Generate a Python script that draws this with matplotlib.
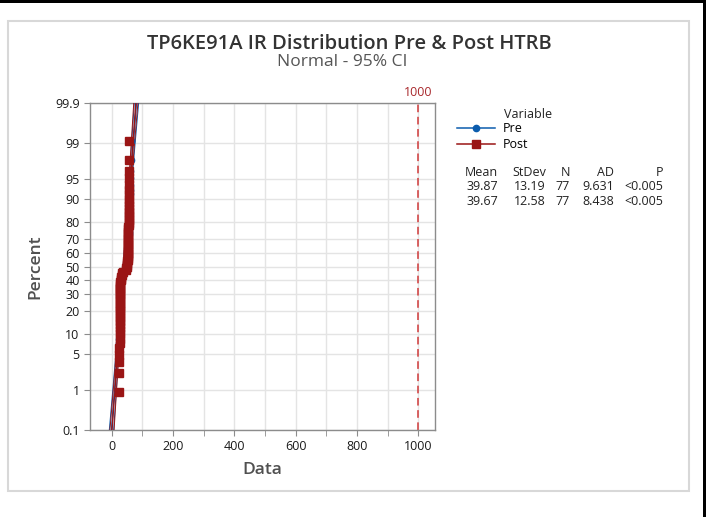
import numpy as np
import matplotlib.pyplot as plt
from matplotlib.lines import Line2D
from matplotlib.patches import Rectangle
from statistics import NormalDist

plt.rcParams['font.family'] = ['Open Sans', 'DejaVu Sans']

# data (sorted order does not matter)
pre = [22, 24, 25, 25, 25, 25, 25, 26, 26, 26, 26, 26, 26, 26, 26, 26, 26, 26,
       27, 27, 27, 27, 27, 27, 27, 27, 28, 28,
       28, 29, 30, 30, 31, 33, 36, 40, 44, 47, 50, 50, 51, 51,
       52, 52, 52, 52, 53, 53, 53, 53, 53, 54, 54, 54, 54, 54, 55, 55, 55,
       55, 55, 56, 56, 56, 56, 56, 57, 57, 57, 57, 58, 58, 58, 59, 60, 62, 64]
post = [25, 26, 26, 25, 25, 25, 25, 26, 26, 26, 26, 26, 26, 26, 26, 26, 26,
        26, 26, 27, 27, 27, 27, 27, 27, 27, 27, 27,
        28, 28, 29, 30, 30, 32, 34, 38, 45, 48, 50, 50, 51, 51,
        52, 52, 52, 52, 53, 53, 53, 53, 53, 53, 54, 54, 54, 54, 54, 54, 54,
        55, 55, 55, 55, 55, 55, 55, 56, 56, 56, 56, 56, 57, 57, 57, 56, 55, 54]

variables = ['Pre', 'Post']
means = [39.87, 39.67]
stdevs = [13.19, 12.58]
ns = [77, 77]
ads = [9.631, 8.438]
pvals = ['<0.005', '<0.005']
ref_value = 1000

colors = ['#0b5cad', '#9a1515']
markers = ['o', 's']
msizes = [4.5, 6]

pct_ticks = [0.1, 1, 5, 10, 20, 30, 40, 50, 60, 70, 80, 90, 95, 99, 99.9]

nd = NormalDist()
_ppf = np.vectorize(nd.inv_cdf, otypes=[float])
_cdf = np.vectorize(nd.cdf, otypes=[float])


def fwd(p):
    p = np.clip(np.asarray(p, dtype=float), 1e-9, 100 - 1e-9)
    return _ppf(p / 100.0)


def inv(z):
    return 100.0 * _cdf(np.asarray(z, dtype=float))


fig = plt.figure(figsize=(7.09, 5.17), dpi=100)
ax = fig.add_axes([90 / 709, 1 - 430 / 517, 345 / 709, 327 / 517])
ax.set_yscale('function', functions=(fwd, inv))

zgrid = np.linspace(fwd(0.1), fwd(99.9), 120)
pgrid = inv(zgrid)

for data, mu, sd, n, c, m, ms in zip([pre, post], means, stdevs, ns,
                                     colors, markers, msizes):
    x = np.sort(np.asarray(data, dtype=float))
    i = np.arange(1, len(x) + 1)
    pct = (i - 0.3) / (len(x) + 0.4) * 100
    fit = mu + zgrid * sd
    se = sd * np.sqrt(1.0 / n + zgrid ** 2 / (2.0 * (n - 1)))
    ax.plot(fit, pgrid, color=c, lw=1.0, zorder=3)
    ax.plot(fit - 1.96 * se, pgrid, color=c, lw=0.7, zorder=3)
    ax.plot(fit + 1.96 * se, pgrid, color=c, lw=0.7, zorder=3)
    ax.plot(x, pct, ls='none', marker=m, ms=ms, color=c, zorder=4)

ax.axvline(ref_value, color='#d03a3a', lw=1.1, ls=(0, (5, 3)), zorder=2)
ax.text(ref_value, 1.012, str(ref_value), transform=ax.get_xaxis_transform(),
        ha='center', va='bottom', fontsize=9, color='#a8282c')

ax.set_xlim(-71, 1055)
ax.set_ylim(0.1, 99.9)
ax.set_xticks(range(0, 1001, 200))
ax.set_xticks(range(100, 1000, 200), minor=True)
ax.set_yticks(pct_ticks)
ax.set_yticklabels([('%g' % t) for t in pct_ticks])
ax.yaxis.set_minor_locator(plt.NullLocator())
ax.grid(True, which='both', color='#e4e4e4', lw=1)
ax.set_axisbelow(True)
ax.tick_params(which='both', direction='out', length=4, color='#8c8c8c',
               labelsize=9, labelcolor='#1a1a1a')
for s in ax.spines.values():
    s.set_color('#8c8c8c')
    s.set_linewidth(1)

ax.set_xlabel('Data', fontsize=12.5, color='#505050', labelpad=6,
              fontweight='semibold')
ax.set_ylabel('Percent', fontsize=12.5, color='#505050', labelpad=8,
              fontweight='semibold')

fig.text(349 / 709, 1 - 44 / 517, 'TP6KE91A IR Distribution Pre & Post HTRB',
         ha='center', va='center', fontsize=14.5, color='#333333',
         fontweight='semibold')
fig.text(342 / 709, 1 - 62 / 517, 'Normal - 95% CI',
         ha='center', va='center', fontsize=12.5, color='#555555')

# legend
handles = [Line2D([], [], color=c, marker=m, ms=ms, lw=1.1)
           for c, m, ms in zip(colors, markers, msizes)]
fig.legend(handles, variables, loc='upper left',
           bbox_to_anchor=(457 / 709, 1 - 122 / 517), frameon=False,
           fontsize=9, handlelength=3.0, handletextpad=0.7,
           labelspacing=0.25, borderpad=0, borderaxespad=0)
fig.text(504 / 709, 1 - 115 / 517, 'Variable', ha='left', va='center',
         fontsize=9, color='#222222')

# stats table
col_x = [498, 546, 570, 614, 663]
headers = ['Mean', 'StDev', 'N', 'AD', 'P']
for hx, h in zip(col_x, headers):
    fig.text(hx / 709, 1 - 173 / 517, h, ha='right', va='center',
             fontsize=9, color='#222222')
for r in range(len(variables)):
    y = 1 - (187 + 14.5 * r) / 517
    vals = ['%.2f' % means[r], '%.2f' % stdevs[r], str(ns[r]),
            '%.3f' % ads[r], pvals[r]]
    for hx, v in zip(col_x, vals):
        fig.text(hx / 709, y, v, ha='right', va='center', fontsize=9,
                 color='#222222')

# frames
fig.patches.append(Rectangle((8 / 709, 1 - 491 / 517), 681 / 709, 470 / 517,
                             transform=fig.transFigure, fill=False,
                             edgecolor='#d8d8d8', lw=1.5))
fig.patches.append(Rectangle((0, 1 - 3 / 517), 706 / 709, 3 / 517,
                             transform=fig.transFigure, color='black', lw=0))
fig.patches.append(Rectangle((703 / 709, 0), 3 / 709, 1,
                             transform=fig.transFigure, color='black', lw=0))

fig.savefig('out.png', dpi=100)
